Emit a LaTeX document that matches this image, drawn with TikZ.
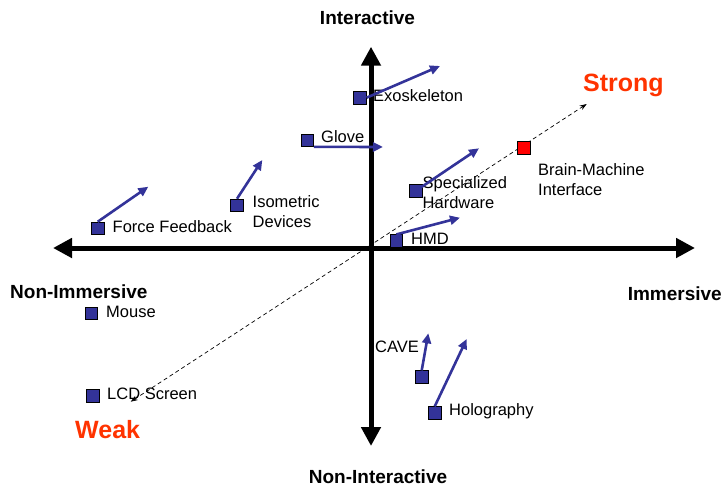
\documentclass[tikz,border=0pt]{standalone}
\usepackage{fontspec}
\setmainfont{Liberation Sans}
\usetikzlibrary{arrows.meta}
\definecolor{devblue}{RGB}{51,51,153}
\definecolor{hot}{RGB}{255,51,0}
\tikzset{
  dev/.style={draw=black, line width=0.6pt, fill=devblue, minimum size=12.5pt, inner sep=0pt},
  lbl/.style={font=\fontsize{16.5}{20}\selectfont, inner sep=0pt, align=left, anchor=west},
  axlbl/.style={font=\fontsize{19}{22}\selectfont\bfseries, inner sep=0pt},
  endlbl/.style={font=\fontsize{25}{28}\selectfont\bfseries, text=hot, inner sep=0pt, anchor=west},
  trend/.style={devblue, line width=2.6pt, -{Triangle[length=10pt,width=9pt]}},
  axis/.style={line width=5pt, {Triangle[length=19pt,width=19pt]}-{Triangle[length=19pt,width=19pt]}},
  strength/.style={line width=0.7pt, dash pattern=on 4pt off 3pt,
    {Stealth[length=7pt,width=5pt]}-{Stealth[length=7pt,width=5pt]}},
}
\begin{document}
\begin{tikzpicture}[x=1pt,y=-1pt]
  \useasboundingbox (0,0) rectangle (725,487);
  % axes
  \coordinate (ax-w) at (53,248);
  \coordinate (ax-e) at (695,248);
  \coordinate (ax-n) at (371,46.7);
  \coordinate (ax-s) at (371,446);
  \draw[axis] (ax-w) -- (ax-e);
  \draw[axis] (ax-s) -- (ax-n);
  \node[axlbl] (inter) at (367.5,18) {Interactive};
  \node[axlbl] (noninter) at (378,477) {Non-Interactive};
  \node[axlbl,anchor=west] (nonimm) at (10,291.7) {Non-Immersive};
  \node[axlbl,anchor=east] (imm) at (722,294) {Immersive};
  % weak -> strong
  \coordinate (weak-end) at (130.7,401.7);
  \coordinate (strong-end) at (586.7,104);
  \draw[strength] (weak-end) -- (strong-end);
  \node[endlbl] (strong) at (583,85) {Strong};
  \node[endlbl] (weak) at (75,429.3) {Weak};
  % devices
  \foreach \n/\x/\y in {exo/360/97.7, glove/307.3/140.3, spec/416/190.7, hmd/396.3/241,
      ff/97.7/228.3, iso/237/205.3, cave/421.7/377, holo/434.7/413,
      mouse/91.3/313.3, lcd/93/395.7}
    \node[dev] (\n) at (\x,\y) {};
  \node[dev,fill=red] (bmi) at (523.7,148) {};
  \node[lbl] (exo-lbl) at (373,96) {Exoskeleton};
  \node[lbl] (glove-lbl) at (321,137) {Glove};
  \node[lbl] (spec-lbl) at (422.5,192.7) {Specialized\\Hardware};
  \node[lbl] (bmi-lbl) at (538,180) {Brain-Machine\\Interface};
  \node[lbl] (hmd-lbl) at (411,239.3) {HMD};
  \node[lbl] (ff-lbl) at (112.5,226.7) {Force Feedback};
  \node[lbl] (iso-lbl) at (252.5,212) {Isometric\\Devices};
  \node[lbl] (cave-lbl) at (375,347.3) {CAVE};
  \node[lbl] (holo-lbl) at (449,411) {Holography};
  \node[lbl] (mouse-lbl) at (106,311.7) {Mouse};
  \node[lbl] (lcd-lbl) at (107,394.3) {LCD Screen};
  % trends
  \coordinate (exo-to) at (440,66);
  \coordinate (glove-to) at (383,147);
  \coordinate (spec-to) at (479,148.3);
  \coordinate (hmd-to) at (460,217.7);
  \coordinate (ff-to) at (148.3,186.7);
  \coordinate (iso-to) at (262.3,160);
  \coordinate (cave-to) at (428.3,333.3);
  \coordinate (holo-to) at (466.7,339);
  \draw[trend] (exo.east) -- (exo-to);
  \draw[trend] (glove.south east) -- (glove-to);
  \draw[trend] (spec.center) -- (spec-to);
  \draw[trend] (hmd.north) -- (hmd-to);
  \draw[trend] (ff.north) -- (ff-to);
  \draw[trend] (iso.north) -- (iso-to);
  \draw[trend] (cave.north) -- (cave-to);
  \draw[trend] (holo.north) -- (holo-to);
\end{tikzpicture}
\end{document}
